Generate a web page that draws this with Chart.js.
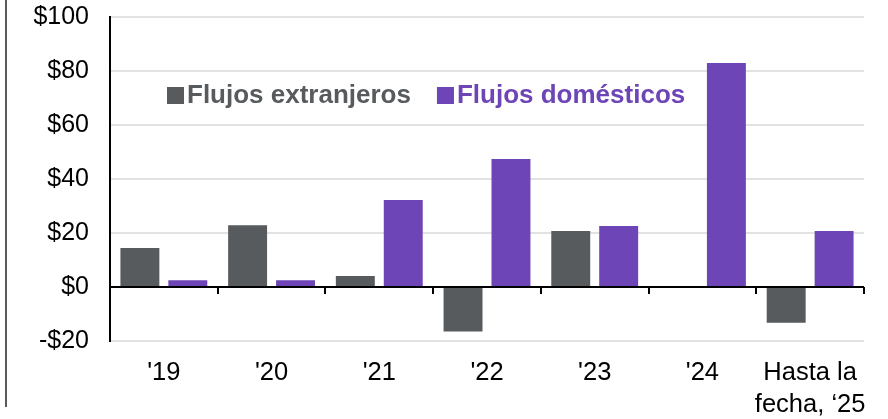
<!DOCTYPE html>
<html>
<head>
<meta charset="utf-8">
<script src="https://cdn.jsdelivr.net/npm/chart.js@4.4.1/dist/chart.umd.min.js"></script>
<style>
  html, body { margin: 0; padding: 0; background: #fff; }
  #wrap { width: 888px; height: 419px; position: relative; }
</style>
</head>
<body>
<div id="wrap"><canvas id="chart"></canvas></div>
<script>
// Flujos de fondos por año (miles de millones USD)
const categories = ["'19", "'20", "'21", "'22", "'23", "'24", ['Hasta la', 'fecha, \u201825']];
const seriesNames = ['Flujos extranjeros', 'Flujos domésticos'];
const foreignFlows = [14.4, 22.9, 4.1, -16.5, 20.7, 0, -13.2];
const domesticFlows = [2.5, 2.5, 32.2, 47.4, 22.6, 83, 20.7];
const yTicks = [-20, 0, 20, 40, 60, 80, 100];

const GRAY = '#575b5d';
const PURPLE = '#6d45b7';
const FONT = "'Liberation Sans', Arial, sans-serif";

// draws the thin frame line at the far left
const frameLine = {
  id: 'frameLine',
  beforeDraw(chart) {
    const ctx = chart.ctx;
    ctx.save();
    ctx.strokeStyle = '#222';
    ctx.lineWidth = 1.5;
    ctx.beginPath();
    ctx.moveTo(6, 0);
    ctx.lineTo(6, 407);
    ctx.stroke();
    ctx.restore();
  }
};

// tick marks on the zero line at category boundaries + inline legend
const zeroTicks = {
  id: 'zeroTicks',
  afterDatasetsDraw(chart) {
    const ctx = chart.ctx;
    const x = chart.scales.x, y = chart.scales.y;
    const y0 = y.getPixelForValue(0);
    const step = (x.right - x.left) / categories.length;
    ctx.save();
    ctx.strokeStyle = '#000';
    ctx.lineWidth = 2;
    ctx.beginPath();
    ctx.moveTo(x.left, y0);
    ctx.lineTo(x.right, y0);
    for (let i = 1; i <= categories.length; i++) {
      const px = Math.round(x.left + step * i);
      ctx.moveTo(px, y0);
      ctx.lineTo(px, y0 + 7);
    }
    ctx.stroke();

    // legend
    ctx.font = 'bold 26px ' + FONT;
    ctx.textBaseline = 'alphabetic';
    let lx = 167;
    const colors = [GRAY, PURPLE];
    seriesNames.forEach((name, i) => {
      ctx.fillStyle = colors[i];
      ctx.fillRect(lx, 87, 17, 17);
      ctx.fillText(name, lx + 20, 103);
      lx += 20 + ctx.measureText(name).width + 26;
    });
    ctx.restore();
  }
};

new Chart(document.getElementById('chart'), {
  type: 'bar',
  data: {
    labels: categories,
    datasets: [
      {
        label: seriesNames[0],
        data: foreignFlows,
        backgroundColor: GRAY,
        barPercentage: 0.8125,
        categoryPercentage: 0.89
      },
      {
        label: seriesNames[1],
        data: domesticFlows,
        backgroundColor: PURPLE,
        barPercentage: 0.8125,
        categoryPercentage: 0.89
      }
    ]
  },
  options: {
    responsive: true,
    maintainAspectRatio: false,
    animation: false,
    layout: { padding: { top: 17, right: 24, left: 0, bottom: 0 } },
    plugins: {
      legend: { display: false },
      tooltip: { enabled: false }
    },
    scales: {
      x: {
        grid: { display: false, drawTicks: false },
        border: { display: false },
        ticks: {
          color: '#000',
          font: { family: FONT, size: 25.5, lineHeight: 1.25 },
          padding: 16,
          maxRotation: 0,
          autoSkip: false
        },
        afterFit(scale) { scale.height = 78; }
      },
      y: {
        min: -20,
        max: 100,
        afterBuildTicks(scale) { scale.ticks = yTicks.map(v => ({ value: v })); },
        grid: {
          color: '#e2e2e2',
          lineWidth: 2,
          drawTicks: false
        },
        border: { display: true, color: '#000', width: 2 },
        ticks: {
          color: '#000',
          font: { family: FONT, size: 25 },
          padding: 21,
          callback: v => (v < 0 ? '-$' + Math.abs(v) : '$' + v)
        },
        afterFit(scale) {
          scale.width = 110;
          scale.paddingTop = 0;
          scale.paddingBottom = 0;
        }
      }
    }
  },
  plugins: [frameLine, zeroTicks]
});
</script>
</body>
</html>
